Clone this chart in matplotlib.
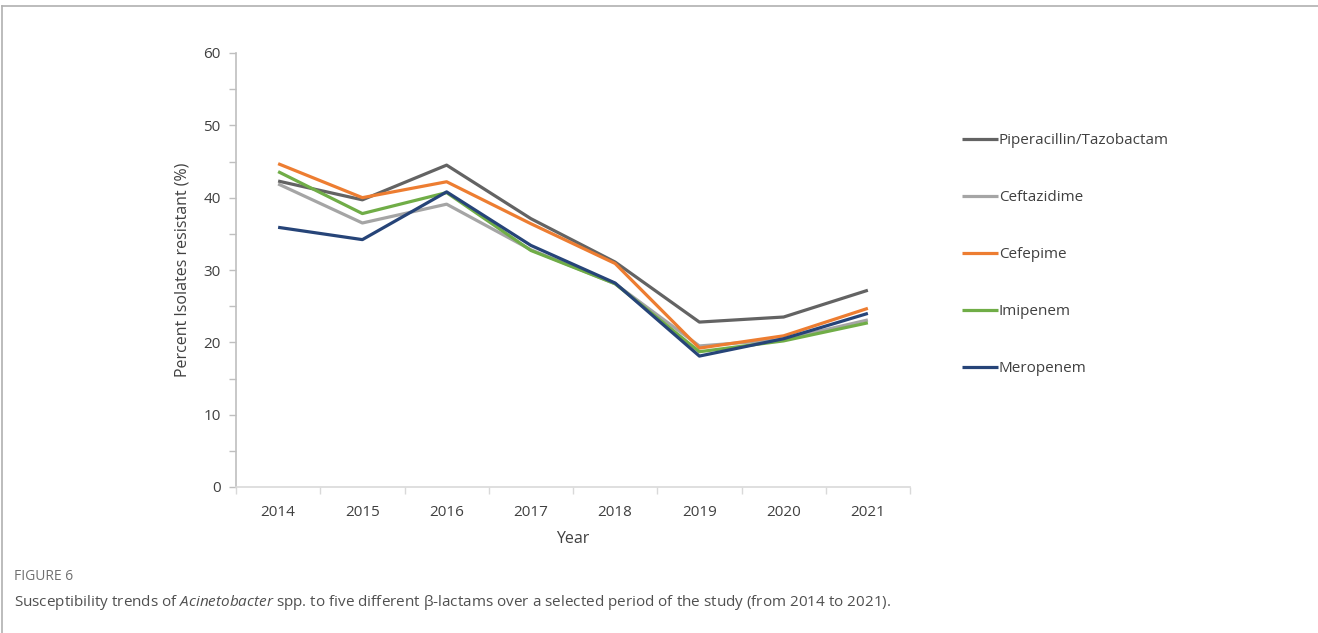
import matplotlib
matplotlib.use("Agg")
import matplotlib.pyplot as plt
from matplotlib.lines import Line2D
import numpy as np

plt.rcParams['font.family'] = ['Open Sans', 'DejaVu Sans']
plt.rcParams['mathtext.fontset'] = 'custom'
plt.rcParams['mathtext.it'] = 'Open Sans:italic'
plt.rcParams['mathtext.rm'] = 'Open Sans'

# datos
years = ['2014', '2015', '2016', '2017', '2018', '2019', '2020', '2021']
pip_tazo = [42.3, 39.7, 44.5, 37.1, 31.1, 22.8, 23.5, 27.2]
ceftazidima = [41.9, 36.5, 39.1, 32.8, 28.1, 19.5, 20.4, 23.1]
cefepima = [44.7, 40.0, 42.2, 36.4, 30.9, 19.2, 20.9, 24.7]
imipenem = [43.6, 37.8, 40.7, 32.7, 28.1, 18.7, 20.2, 22.7]
meropenem = [35.9, 34.2, 40.8, 33.4, 28.2, 18.1, 20.5, 24.0]

series = [
    ("Piperacillin/Tazobactam", pip_tazo, "#636363"),
    ("Ceftazidime", ceftazidima, "#a5a5a5"),
    ("Cefepime", cefepima, "#ed7d31"),
    ("Imipenem", imipenem, "#70ad47"),
    ("Meropenem", meropenem, "#264478"),
]

W, H = 1318, 633
fig = plt.figure(figsize=(W / 100, H / 100), dpi=100)
ax = fig.add_axes([236 / W, 1 - 487 / H, (910 - 236) / W, (487 - 53) / H])

x = np.arange(len(years))
for nombre, valores, color in series:
    ax.plot(x, valores, color=color, linewidth=2.3, label=nombre,
            solid_joinstyle='round', solid_capstyle='butt')

ax.set_xlim(-0.5, len(years) - 0.5)
ax.set_ylim(0, 60)
ax.set_xticks(x)
ax.set_xticklabels(years)
ax.set_xticks(np.arange(-0.5, len(years)), minor=True)
ax.tick_params(axis='x', which='major', length=0, pad=13, labelsize=11, labelcolor='#404040')
ax.tick_params(axis='x', which='minor', length=5, color='#d9d9d9', width=1)
ax.set_yticks(np.arange(0, 61, 10))
ax.set_yticks(np.arange(5, 60, 10), minor=True)
ax.tick_params(axis='y', which='both', length=5, color='#bfbfbf', width=1,
               labelsize=11, labelcolor='#404040', pad=6)

for lado in ['top', 'right']:
    ax.spines[lado].set_visible(False)
ax.spines['left'].set_color('#bfbfbf')
ax.spines['bottom'].set_color('#d9d9d9')
ax.spines['left'].set_linewidth(1.2)
ax.spines['bottom'].set_linewidth(1.2)

ax.set_ylabel("Percent Isolates resistant (%)", fontsize=11.5, color='#404040', labelpad=9)
ax.set_xlabel("Year", fontsize=11.5, color='#404040', labelpad=8)

leg = fig.legend(loc='upper left', bbox_to_anchor=(956 / W, 1 - 127 / H),
                 frameon=False, fontsize=11, handlelength=2.35, handletextpad=0.05,
                 labelspacing=2.75, borderaxespad=0)
for t in leg.get_texts():
    t.set_color('#404040')

# marco de la figura
fig.add_artist(Line2D([2 / W, 1], [1 - 6 / H, 1 - 6 / H], color='#b0b0b0', linewidth=1.2))
fig.add_artist(Line2D([2 / W, 2 / W], [0, 1 - 6 / H], color='#b0b0b0', linewidth=1.2))

fig.text(14 / W, 1 - 577 / H, "FIGURE 6", fontsize=10, color='#707070', va='center')
fig.text(14 / W, 1 - 602 / H,
         r"Susceptibility trends of $\mathit{Acinetobacter}$ spp. to five different β-lactams "
         r"over a selected period of the study (from 2014 to 2021).",
         fontsize=11, color='#505050', va='center')

fig.savefig("out.png", dpi=100)
